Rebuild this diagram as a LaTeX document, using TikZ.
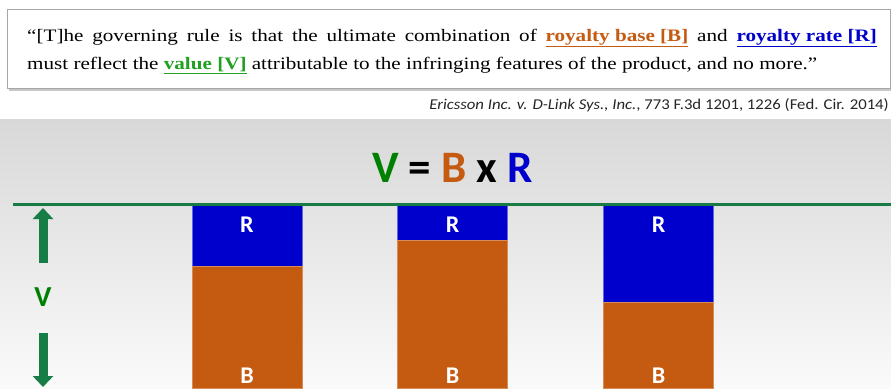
\documentclass[tikz,border=0pt]{standalone}
\usepackage{fontspec}
\usepackage{graphicx}
\setmainfont{Liberation Serif}
\newfontfamily\calib{Carlito}
\usetikzlibrary{arrows.meta}
\definecolor{qorange}{RGB}{197,90,17}
\definecolor{qblue}{RGB}{0,0,204}
\definecolor{qgreen}{RGB}{34,160,34}
\definecolor{vgreen}{RGB}{0,128,0}
\definecolor{lgreen}{RGB}{24,122,68}
\definecolor{agreen}{RGB}{22,125,70}
\definecolor{citegray}{RGB}{38,38,38}
\tikzset{
  barR/.style={fill=qblue, draw=qblue!60!white, line width=0.6pt, inner sep=0pt, minimum width=110pt},
  barB/.style={fill=qorange, draw=qorange!70!white, line width=0.6pt, inner sep=0pt, minimum width=110pt},
  barlbl/.style={font=\calib\bfseries\fontsize{24}{24}\selectfont, text=white, anchor=base, inner sep=0pt},
  fatarrow/.style={draw=agreen, line width=9pt, -{Triangle[width=20pt,length=11pt]}},
  quotetxt/.style={anchor=base west, inner sep=0pt, font=\fontsize{17.5}{19}\selectfont},
}
\begin{document}
\begin{tikzpicture}[x=1pt,y=-1pt]
\useasboundingbox (0,0) rectangle (891,388);
\fill[white] (0,0) rectangle (891,388);
% lower panel
\shade[top color={rgb,255:red,216;green,216;blue,216}, bottom color={rgb,255:red,250;green,250;blue,250}] (0,119) rectangle (891,388);
% quote box
\fill[gray!55, opacity=0.8] (9,11) rectangle (892,90.5);
\draw[fill=white, draw=gray!70, line width=0.8pt] (7,9) rectangle (890,88);
\node[quotetxt] (q1) at (27,41)
  {\scalebox{1.207}[1]{\makebox[704pt][s]{“[T]he governing rule is that the ultimate combination of \textcolor{qorange}{\textbf{\underline{royalty base [B]}}} and \textcolor{qblue}{\textbf{\underline{royalty rate [R]}}}}}};
\node[quotetxt] (q2) at (27,69)
  {\scalebox{1.207}[1]{must reflect the \textcolor{qgreen}{\textbf{\underline{value [V]}}} attributable to the infringing features of the product, and no more.”}};
\node[anchor=base east, inner sep=0pt, text=citegray, font=\calib\fontsize{15}{16}\selectfont] (cite) at (889,109)
  {\scalebox{1.116}[1]{\textit{Ericsson Inc. v. D-Link Sys., Inc.}, 773 F.3d 1201, 1226 (Fed. Cir. 2014)}};
% formula
\node[anchor=base, inner sep=0pt, font=\calib\bfseries\fontsize{45}{45}\selectfont] (formula) at (452.5,182)
  {\textcolor{vgreen}{V} = \textcolor{qorange}{B} x \textcolor{qblue}{R}};
% bars
\node[barR, minimum height=61pt, anchor=north] (r1) at (247,205) {};
\node[barB, minimum height=122pt, anchor=north] (b1) at (247,266) {};
\node[barR, minimum height=35pt, anchor=north] (r2) at (452.5,205) {};
\node[barB, minimum height=148pt, anchor=north] (b2) at (452.5,240) {};
\node[barR, minimum height=97pt, anchor=north] (r3) at (658.5,205) {};
\node[barB, minimum height=86pt, anchor=north] (b3) at (658.5,302) {};
\node[barlbl] (lr1) at (247,232) {R};
\node[barlbl] (lr2) at (452.5,232) {R};
\node[barlbl] (lr3) at (658.5,232) {R};
\node[barlbl] (lb1) at (247,383) {B};
\node[barlbl] (lb2) at (452.5,383) {B};
\node[barlbl] (lb3) at (658.5,383) {B};
% green baseline
\coordinate (gl) at (13,204.5);
\coordinate (gr) at (891,204.5);
\draw[lgreen, line width=3pt] (gl) -- (gr);
% V arrows
\node[anchor=base, inner sep=0pt, text=vgreen, font=\calib\bfseries\fontsize{29}{29}\selectfont] (vlbl) at (43,306) {V};
\coordinate (upfrom) at (43,263);
\coordinate (upto) at (43,208);
\coordinate (dnfrom) at (43,333);
\coordinate (dnto) at (43,387);
\draw[fatarrow] (upfrom) -- (upto);
\draw[fatarrow] (dnfrom) -- (dnto);
\end{tikzpicture}
\end{document}
